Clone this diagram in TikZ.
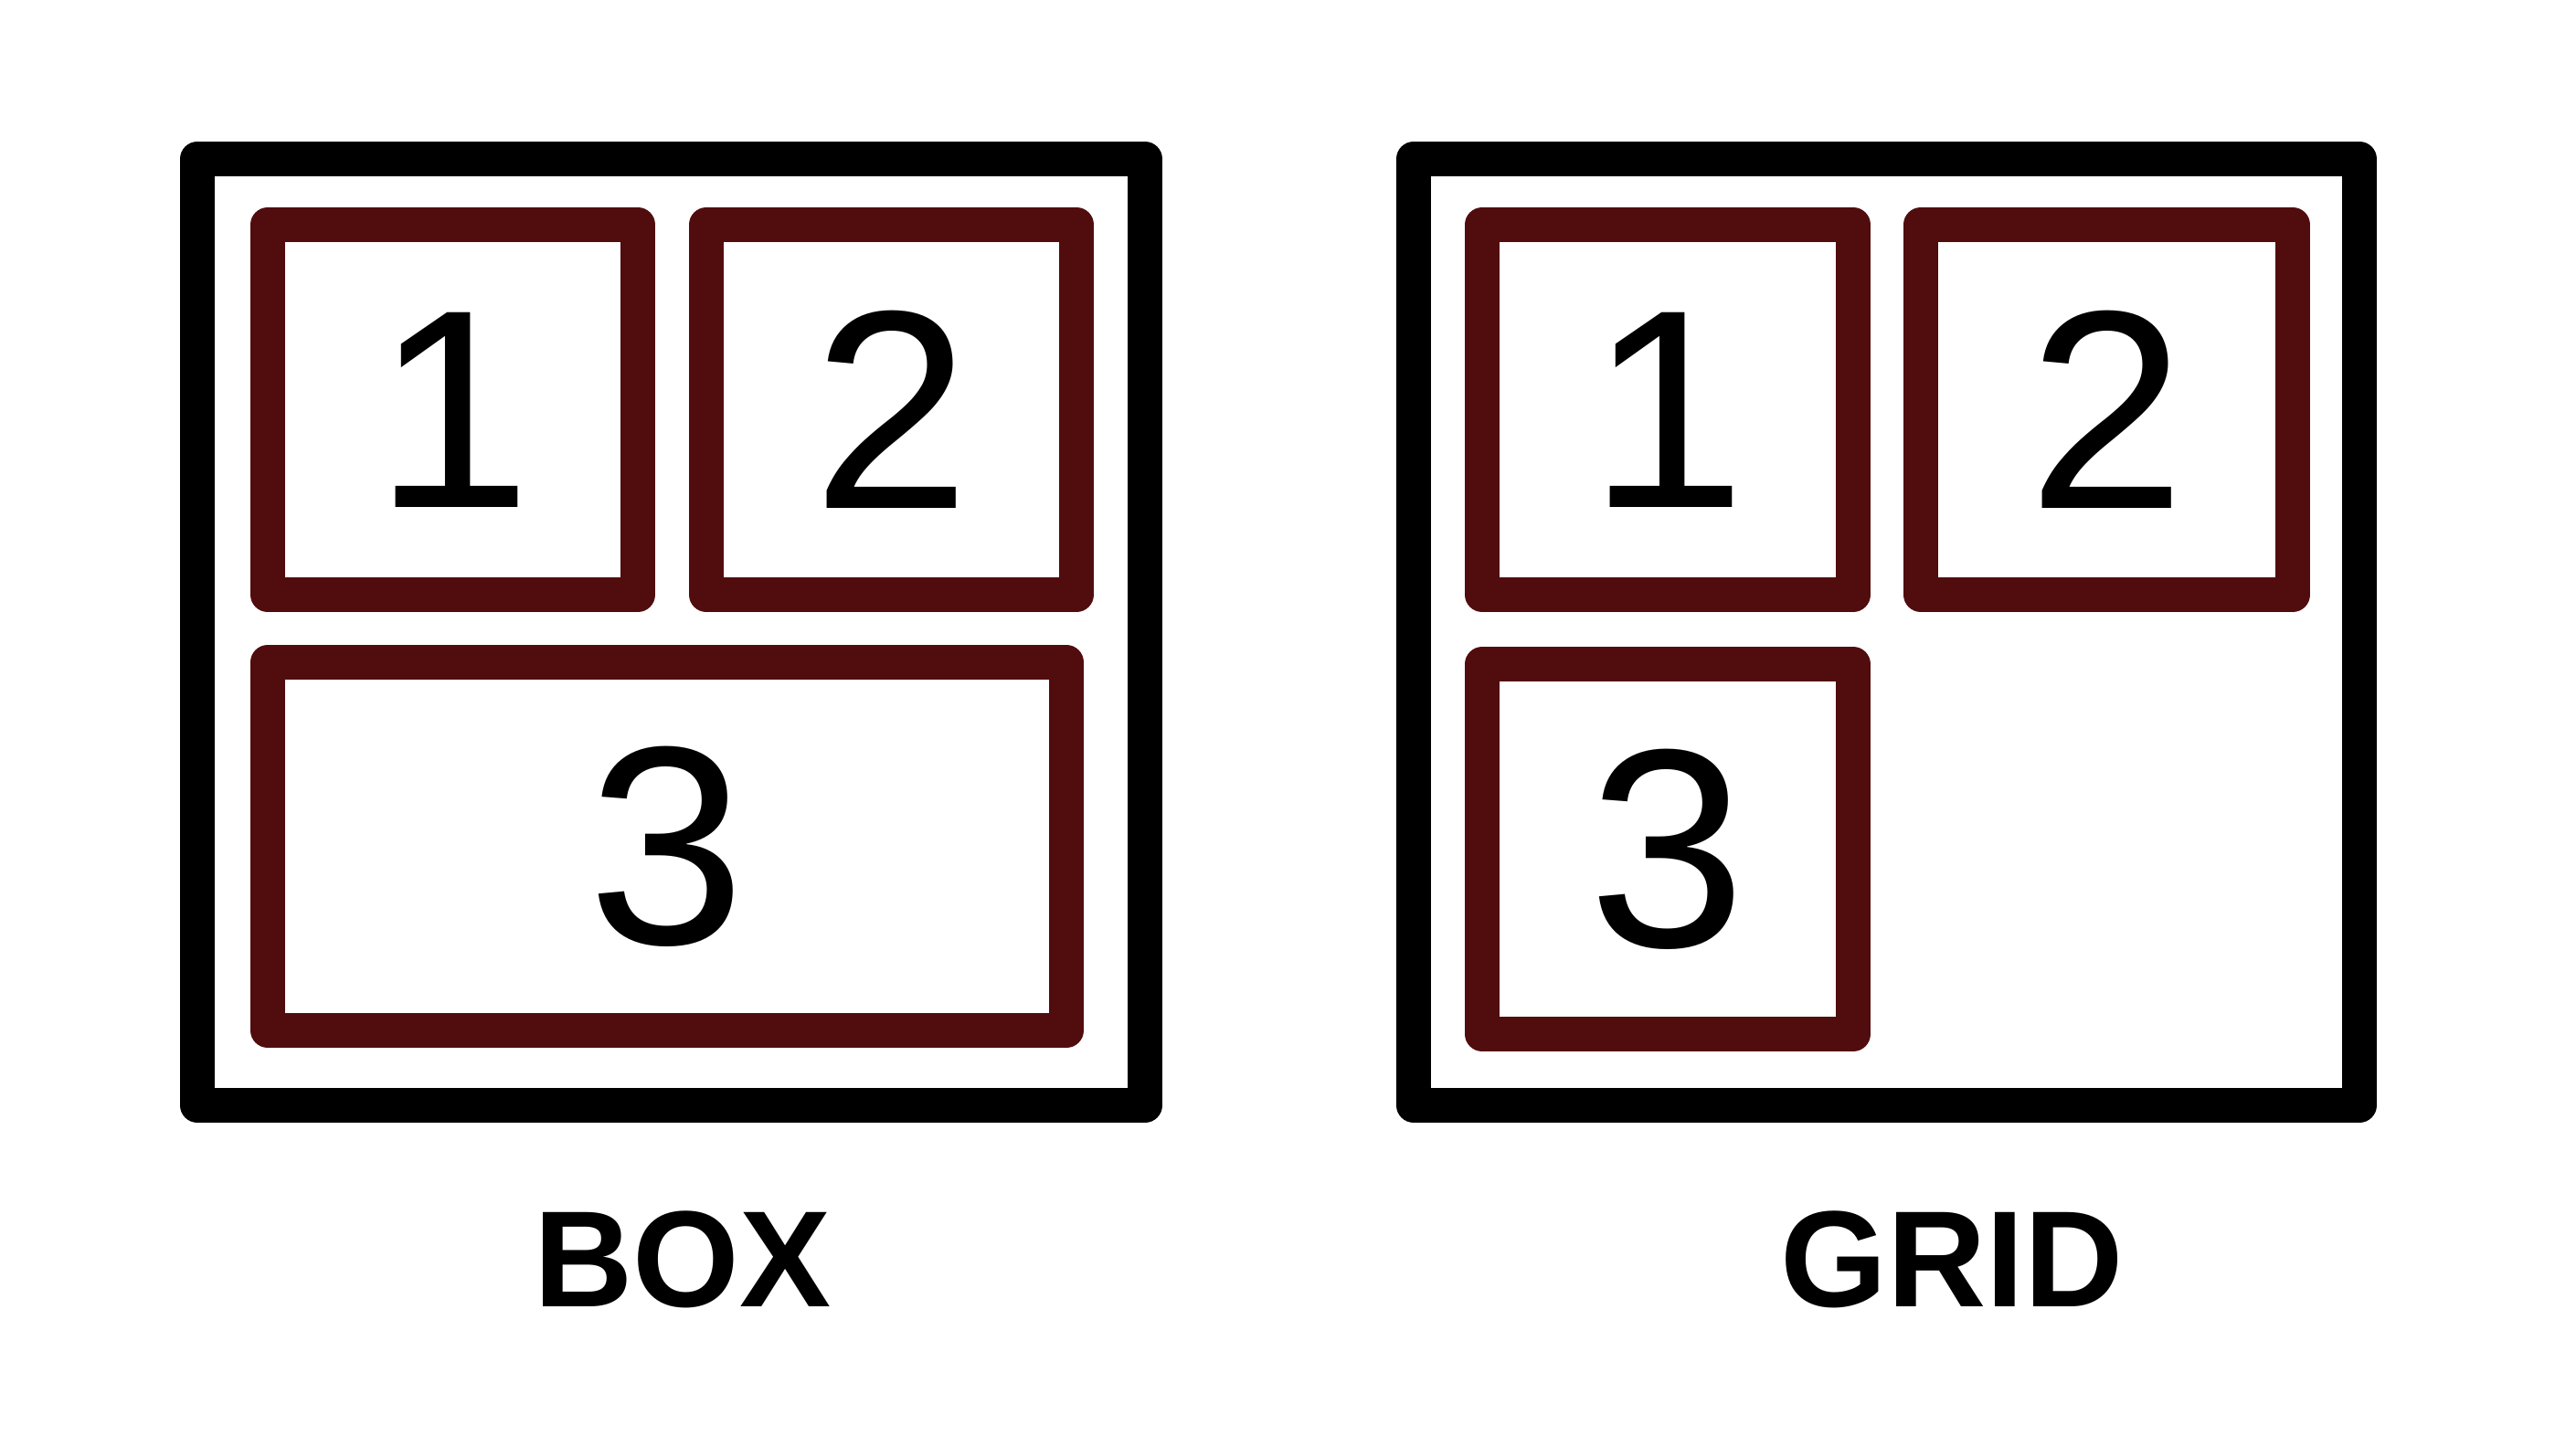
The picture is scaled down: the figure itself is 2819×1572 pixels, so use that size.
\documentclass[tikz,border=0pt]{standalone}
\usepackage{fontspec}
\setmainfont{Liberation Sans}
\definecolor{cellred}{RGB}{81,13,14}

\begin{document}
\begin{tikzpicture}[x=0.1pt,y=-0.1pt,
  frame/.style={draw,line width=3.8pt,line join=round,inner sep=0pt},
  cell/.style={frame,draw=cellred,font=\fontsize{31}{36}\selectfont},
  caption/.style={font=\bfseries\fontsize{15}{18}\selectfont}]
  \useasboundingbox (0,0) rectangle (2819,1572);
  % box layout
  \node (box) at (734.5,692) [frame,minimum width=103.7pt,minimum height=103.6pt] {};
  \node (box1) at (495.5,448.5) [cell,minimum width=40.5pt,minimum height=40.5pt] {1};
  \node (box2) at (975.5,448.5) [cell,minimum width=40.5pt,minimum height=40.5pt] {2};
  \node (box3) at (730,926.5) [cell,minimum width=87.4pt,minimum height=40.3pt] {3};
  \node (boxlabel) at (747,1379) [caption] {BOX};
  % grid layout
  \node (grid) at (2064.5,692) [frame,minimum width=103.5pt,minimum height=103.6pt] {};
  \node (grid1) at (1825,448.5) [cell,minimum width=40.6pt,minimum height=40.5pt] {1};
  \node (grid2) at (2305.5,448.5) [cell,minimum width=40.7pt,minimum height=40.5pt] {2};
  \node (grid3) at (1825,929.5) [cell,minimum width=40.6pt,minimum height=40.5pt] {3};
  \node (gridlabel) at (2136,1379) [caption] {GRID};
\end{tikzpicture}
\end{document}
